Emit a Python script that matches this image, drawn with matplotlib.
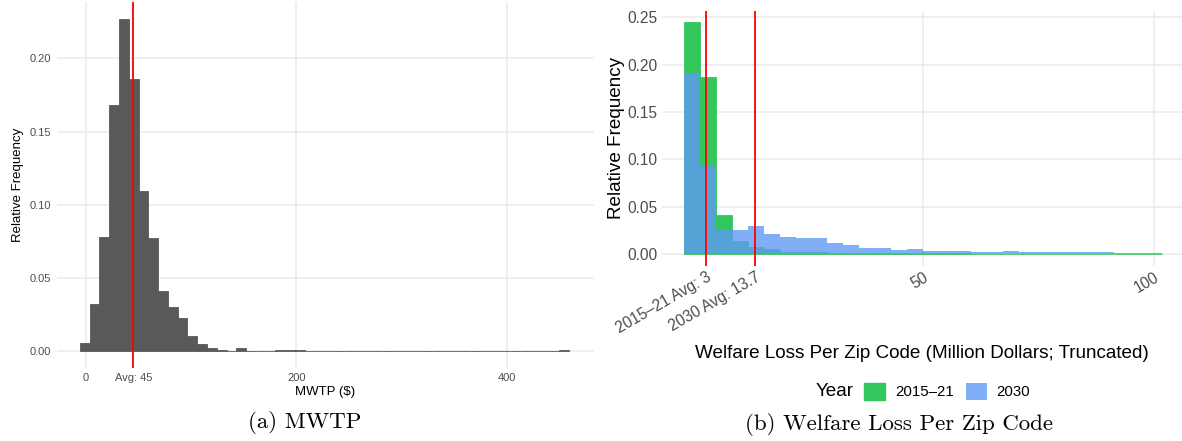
import numpy as np
import matplotlib
matplotlib.use("Agg")
import matplotlib.pyplot as plt
from matplotlib.patches import Patch

# (a) MWTP: relative frequency per bin (50 bins)
mwtp_bin_start = -5.7
mwtp_bin_width = 9.29
mwtp_freq = [0.0057, 0.032, 0.078, 0.168, 0.227, 0.186, 0.109, 0.077, 0.041, 0.030,
             0.0226, 0.0103, 0.0048, 0.0018, 0.0007, 0.0001, 0.002, 0.0002, 0.0002, 0.0002,
             0.0005, 0.0005, 0.0007, 0, 0, 0, 0, 0, 0, 0,
             0, 0, 0, 0, 0, 0, 0, 0, 0, 0,
             0, 0, 0, 0, 0, 0, 0, 0, 0, 0.0007]
mwtp_avg = 45
mwtp_ticks = [0, 45, 200, 400]
mwtp_ticklabels = ["0", "Avg: 45", "200", "400"]

# (b) Welfare loss per zip code: relative frequency per bin (30 bins)
loss_bin_start = -1.725
loss_bin_width = 3.45
years = ["2015–21", "2030"]
loss_freq_2015 = [0.245, 0.187, 0.041, 0.0137, 0.0074, 0.0053, 0.002, 0.002, 0.0018, 0.001,
                  0.001, 0.0008, 0.0008, 0.0007, 0.0007, 0.0006, 0.0006, 0.0006, 0.0005, 0.0005,
                  0.0005, 0.0005, 0.0005, 0.0004, 0.0004, 0.0004, 0.0004, 0.0004, 0.0004, 0.0004]
loss_freq_2030 = [0.190, 0.093, 0.0257, 0.0254, 0.0296, 0.0211, 0.018, 0.0169, 0.0169, 0.0116,
                  0.009, 0.0063, 0.0063, 0.0042, 0.0053, 0.0032, 0.0032, 0.0032, 0.002, 0.002,
                  0.003, 0.002, 0.002, 0.002, 0.002, 0.002, 0.002, 0.001, 0.001, 0.001]
loss_avgs = [3.0, 13.7]
loss_ticks = [3.0, 13.7, 50, 100]
loss_ticklabels = ["2015–21 Avg: 3", "2030 Avg: 13.7", "50", "100"]

plt.rcParams["font.family"] = ["Liberation Sans", "DejaVu Sans"]
W, H = 1182, 441
fig = plt.figure(figsize=(W / 100, H / 100), dpi=100)

grid_col = "#EBEBEB"
tick_col = "#4D4D4D"
green = "#33C65C"
blue = "#609AF6"


def minimal(ax):
    for s in ax.spines.values():
        s.set_visible(False)
    ax.grid(True, color=grid_col, lw=1.1)
    ax.set_axisbelow(True)


# ---- left panel
ax1 = fig.add_axes([56.6 / W, 1 - 367.6 / H, (594 - 56.6) / W, (367.6 - 2) / H])
minimal(ax1)
edges1 = mwtp_bin_start + mwtp_bin_width * np.arange(len(mwtp_freq))
ax1.bar(edges1, mwtp_freq, width=mwtp_bin_width, align="edge",
        color="#595959", edgecolor="#595959", linewidth=0.6)
ax1.axvline(mwtp_avg, color="red", lw=1.3)
ax1.set_xlim(-27.9, 483)
ax1.set_ylim(-0.01135, 0.2385)
ax1.set_xticks(mwtp_ticks)
ax1.set_xticklabels(mwtp_ticklabels)
ax1.set_yticks([0, 0.05, 0.10, 0.15, 0.20])
ax1.set_yticklabels(["0.00", "0.05", "0.10", "0.15", "0.20"])
ax1.tick_params(length=0, labelsize=8, labelcolor=tick_col, pad=4)
ax1.set_xlabel("MWTP ($)", fontsize=9.5, labelpad=2)
ax1.set_ylabel("Relative Frequency", fontsize=9.5, labelpad=4)

# ---- right panel
ax2 = fig.add_axes([662 / W, 1 - 265.6 / H, (1182 - 662) / W, (265.6 - 10.7) / H])
minimal(ax2)
edges2 = loss_bin_start + loss_bin_width * np.arange(len(loss_freq_2015))
ax2.bar(edges2, loss_freq_2015, width=loss_bin_width, align="edge",
        color=green, edgecolor=green, linewidth=0.6, label=years[0])
ax2.bar(edges2, loss_freq_2030, width=loss_bin_width, align="edge",
        color=blue, alpha=0.8, linewidth=0, label=years[1])
for a in loss_avgs:
    ax2.axvline(a, color="red", lw=1.3)
ax2.set_xlim(-6.5, 106.1)
ax2.set_ylim(-0.01225, 0.257)
ax2.set_xticks(loss_ticks)
ax2.set_xticklabels(loss_ticklabels, rotation=30, ha="right", va="top",
                    rotation_mode="anchor")
ax2.set_yticks([0, 0.05, 0.10, 0.15, 0.20, 0.25])
ax2.set_yticklabels(["0.00", "0.05", "0.10", "0.15", "0.20", "0.25"])
ax2.tick_params(length=0, labelsize=11.2, labelcolor=tick_col, pad=3)
ax2.set_xlabel("Welfare Loss Per Zip Code (Million Dollars; Truncated)",
               fontsize=13.6, labelpad=6)
ax2.set_ylabel("Relative Frequency", fontsize=13.6, labelpad=2)

# legend at the bottom, title on the left
handles = [Patch(color=green), Patch(color=blue, alpha=0.8, linewidth=0)]
fig.legend(handles, years, loc="center", bbox_to_anchor=(947 / W, 1 - 391.5 / H),
           ncol=2, frameon=False, fontsize=10.8, handlelength=1.4, handleheight=1.4,
           handletextpad=0.65, columnspacing=0.8, borderpad=0)
fig.text(835 / W, 1 - 391.5 / H, "Year", ha="center", va="center", fontsize=13.6)

# sub-captions
fig.text(305 / W, 1 - 422 / H, "(a) MWTP", ha="center", va="center",
         family="cmr10", fontsize=16.5)
fig.text(899 / W, 1 - 424 / H, "(b) Welfare Loss Per Zip Code", ha="center", va="center",
         family="cmr10", fontsize=16.5)

fig.savefig("out.png", dpi=100)
